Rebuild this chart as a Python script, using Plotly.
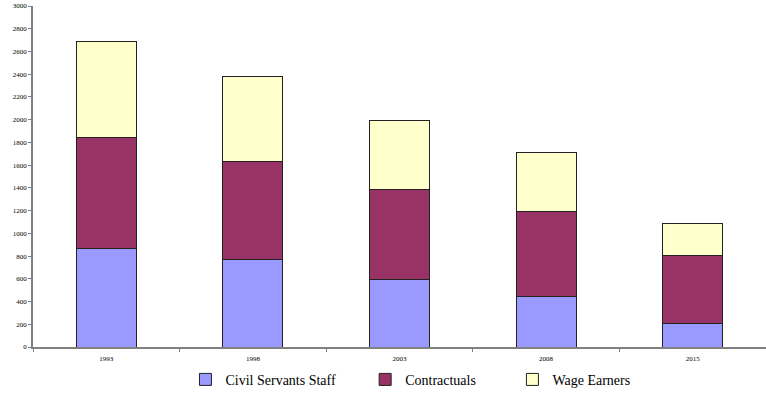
import plotly.graph_objects as go

years = ["1993", "1998", "2003", "2008", "2015"]
civil_servants = [870, 770, 590, 440, 205]
contractuals = [975, 860, 800, 755, 600]
wage_earners = [845, 750, 600, 520, 285]
y_ticks = list(range(0, 3001, 200))

NB = "\u00a0"
series = [
    ("Civil Servants Staff" + NB * 7, civil_servants, "#9999FF"),
    ("Contractuals" + NB * 9, contractuals, "#993366"),
    ("Wage Earners", wage_earners, "#FFFFCC"),
]

fig = go.Figure()
for name, vals, color in series:
    fig.add_trace(go.Bar(
        x=years, y=vals, name=name,
        marker=dict(color=color, line=dict(color="#222222", width=1)),
        width=0.41,
    ))

fig.update_layout(
    barmode="stack",
    width=766, height=394,
    margin=dict(l=33, r=0, t=6, b=47),
    plot_bgcolor="white", paper_bgcolor="white",
    font=dict(family="Liberation Serif", color="#000000"),
    showlegend=True,
    legend=dict(
        orientation="h", x=0.208, xanchor="left",
        yref="container", y=0.036, yanchor="middle",
        font=dict(size=14, family="Liberation Serif"),
        traceorder="normal",
    ),
    xaxis=dict(
        type="category",
        showline=True, linecolor="#808080", linewidth=1.5,
        ticks="outside", tickson="boundaries", ticklen=3, tickcolor="#808080",
        tickfont=dict(size=7), ticklabelstandoff=4,
        showgrid=False,
    ),
    yaxis=dict(
        range=[0, 3000], tickvals=y_ticks,
        showline=True, linecolor="#808080", linewidth=1.5,
        ticks="outside", ticklen=3, tickcolor="#808080",
        tickfont=dict(size=7),
        showgrid=False, zeroline=False,
    ),
)

fig.write_html("out.html")
